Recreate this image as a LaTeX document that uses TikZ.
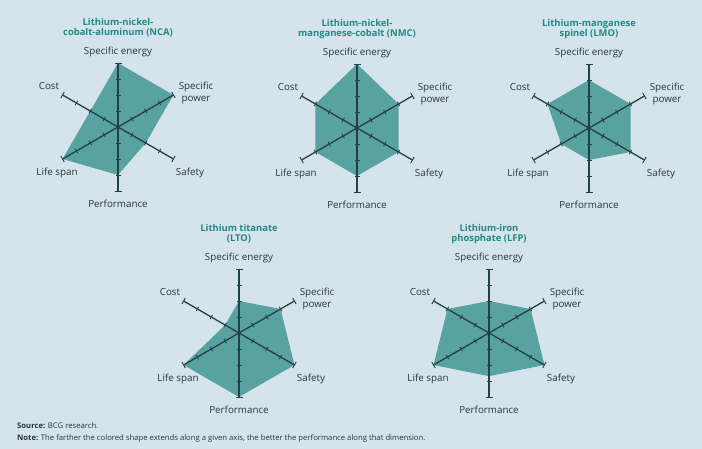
\documentclass[tikz,border=0pt]{standalone}
\usepackage{fontspec}
\setmainfont{Open Sans}

\definecolor{bgblue}{HTML}{D5E4EB}
\definecolor{tealfill}{HTML}{58A3A1}
\definecolor{axiscol}{HTML}{22404A}
\definecolor{titlecol}{HTML}{1F8A86}
\definecolor{labelcol}{HTML}{2A3438}

\tikzset{
  axisline/.style={draw=axiscol, line width=1.3pt},
  tickbar/.style={draw=axiscol, line width=0.9pt},
  shapefill/.style={fill=tealfill},
  axislabel/.style={text=labelcol, font=\fontsize{9.8}{12.5}\selectfont, align=center, inner sep=0pt},
  charttitle/.style={text=titlecol, font=\bfseries\fontsize{9.4}{10.2}\selectfont, align=center, inner sep=0pt},
  notetext/.style={text=labelcol, font=\fontsize{7.7}{9}\selectfont, inner sep=0pt, anchor=west}
}

% #1 name, #2 centre, #3 values energy/power/safety/performance/life/cost, #4 title
\newcommand\radarchart[4]{%
  \begin{scope}[shift={#2}]
    \foreach \e/\p/\s/\f/\l/\c in {#3}
      \fill[shapefill] (90:{16*\e}) -- (30:{16*\p}) -- (-30:{16*\s}) -- (-90:{16*\f})
        -- (-150:{16*\l}) -- (150:{16*\c}) -- cycle;
    \foreach \a in {90,30,-30}
      \draw[axisline] (\a:64) -- (\a+180:64);
    \foreach \a in {90,30,...,-210} {
      \begin{scope}[rotate=\a]
        \foreach \k in {16,32,48}
          \draw[tickbar] (\k,-2.5) -- (\k,2.5);
        \draw[tickbar] (64,-3.5) -- (64,3.5);
      \end{scope}
    }
    \node[charttitle] (#1-title) at (0,99) {#4};
    \node[axislabel] (#1-energy) at (0,75) {Specific energy};
    \node[axislabel] (#1-power) at (78,34) {Specific\\power};
    \node[axislabel] (#1-safety) at (72,-46) {Safety};
    \node[axislabel] (#1-perf) at (0,-77) {Performance};
    \node[axislabel] (#1-life) at (-61,-46) {Life span};
    \node[axislabel] (#1-cost) at (-69,41) {Cost};
  \end{scope}}

\begin{document}
\begin{tikzpicture}[x=1pt, y=1pt]
  \fill[bgblue] (0,0) rectangle (702,-449);
  \useasboundingbox (0,0) rectangle (702,-449);

  \radarchart{nca}{(118,-127)}{4/4/2/3/4/2}{Lithium-nickel-\\cobalt-aluminum (NCA)}
  \radarchart{nmc}{(357,-128)}{4/3/3/3/3/3}{Lithium-nickel-\\manganese-cobalt (NMC)}
  \radarchart{lmo}{(589,-128)}{3/3/3/2/2/3}{Lithium-manganese\\spinel (LMO)}
  \radarchart{lto}{(239,-333)}{2/3/4/4/4/1}{Lithium titanate\\(LTO)}
  \radarchart{lfp}{(489,-333)}{2/3/4/2.7/4/3}{Lithium-iron\\phosphate (LFP)}

  \node[notetext] (source) at (17,-426) {\textbf{Source:} BCG research.};
  \node[notetext] (note) at (17,-438) {\textbf{Note:} The farther the colored shape extends along a given axis, the better the performance along that dimension.};
\end{tikzpicture}
\end{document}
